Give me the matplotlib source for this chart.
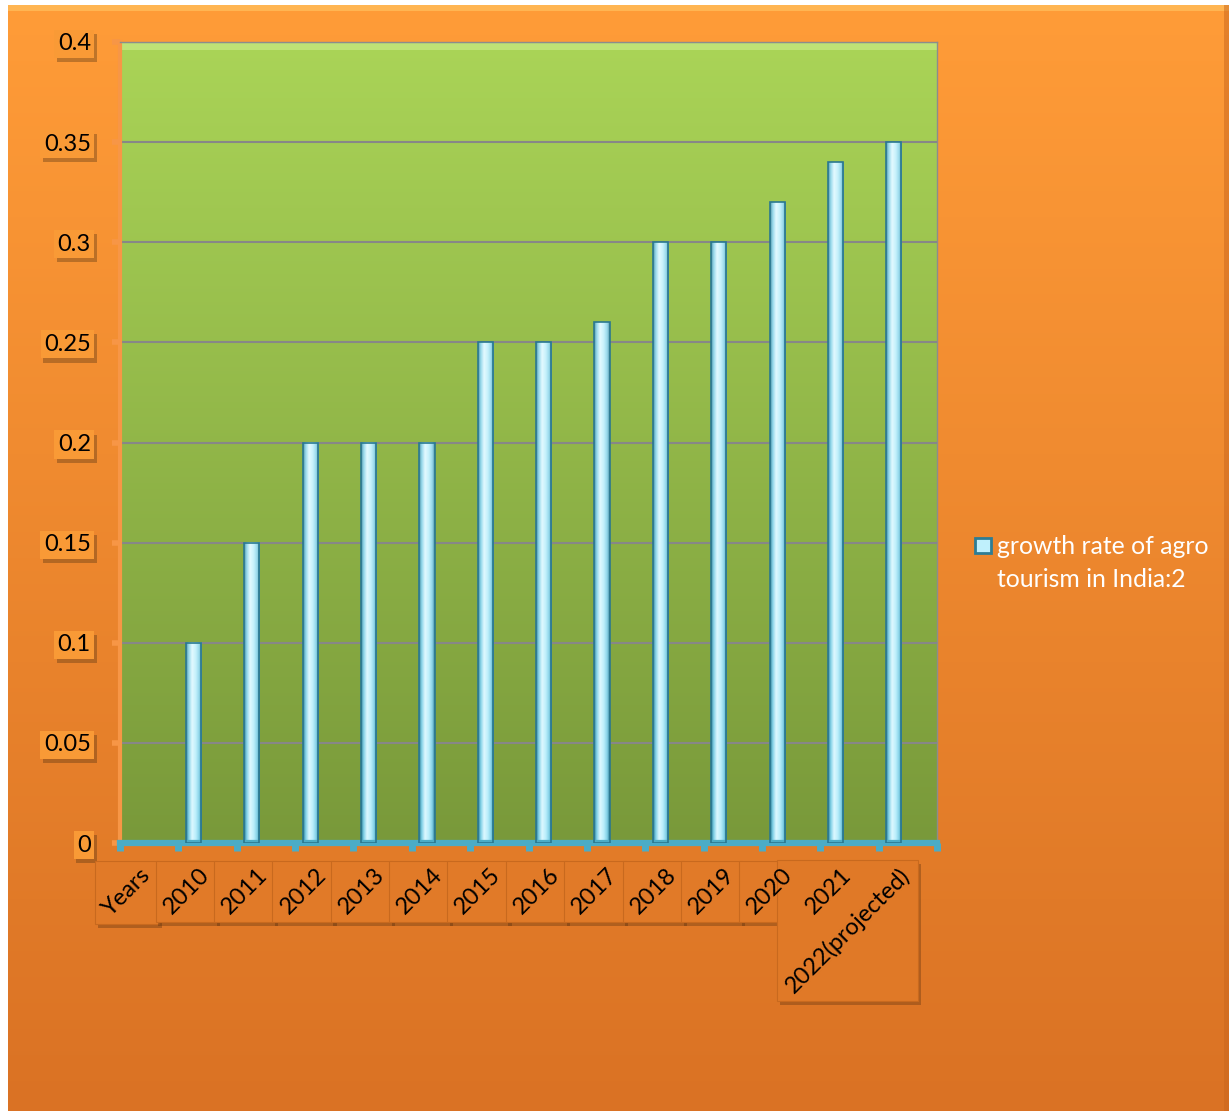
import matplotlib
matplotlib.use('Agg')
import matplotlib.pyplot as plt
import matplotlib.patheffects as pe
import matplotlib.transforms as mtransforms
from matplotlib.patches import Rectangle
from matplotlib.colors import to_rgb
import numpy as np

# --- data ---
categories = ['Years', '2010', '2011', '2012', '2013', '2014', '2015', '2016',
              '2017', '2018', '2019', '2020', '2021', '2022(projected)']
growth = [np.nan, 0.10, 0.15, 0.20, 0.20, 0.20, 0.25, 0.25,
          0.26, 0.30, 0.30, 0.32, 0.34, 0.35]
series_name = 'growth rate of agro\ntourism in India:2'
y_ticks = [0, 0.05, 0.10, 0.15, 0.20, 0.25, 0.30, 0.35, 0.40]
y_labels = ['0', '0.05', '0.1', '0.15', '0.2', '0.25', '0.3', '0.35', '0.4']

W, H = 1231, 1113
FONT = 'Lato'
FS = 17
plt.rcParams['font.family'] = [FONT, 'DejaVu Sans']

def fx(px):
    return px / W

def fy(py):
    return 1 - py / H

def vgrad(c_top, c_bot, n=256):
    t = np.linspace(0, 1, n)[:, None]
    g = np.array(to_rgb(c_top)) * (1 - t) + np.array(to_rgb(c_bot)) * t
    return g[:, None, :]

ORANGE_TOP, ORANGE_BOT = '#FF9C38', '#DA7224'

def orange_at(py):
    t = min(max((py - 5) / 1106, 0), 1)
    return tuple(np.array(to_rgb(ORANGE_TOP)) * (1 - t) + np.array(to_rgb(ORANGE_BOT)) * t)

fig = plt.figure(figsize=(W / 100, H / 100), dpi=100)
fig.patch.set_facecolor('white')

# orange chart area
bg = fig.add_axes([fx(8), fy(1111), fx(1229) - fx(8), fy(5) - fy(1111)])
bg.set_axis_off()
bg.imshow(vgrad(ORANGE_TOP, ORANGE_BOT), aspect='auto', extent=[0, 1, 0, 1])
bg.add_patch(Rectangle((0, 0.995), 1, 0.005, color='#FFB552', lw=0))
bg.add_patch(Rectangle((0.996, 0), 0.004, 1, color='#C9661E', alpha=0.5, lw=0))
bg.set_xlim(0, 1)
bg.set_ylim(0, 1)

# plot area
ax = fig.add_axes([fx(120), fy(843), fx(937) - fx(120), fy(42) - fy(843)])
ax.set_facecolor('none')
ax.imshow(vgrad('#AAD457', '#79993A'), aspect='auto', extent=[0, 1, 0, 1],
          transform=ax.transAxes, zorder=0)
ax.add_patch(Rectangle((0, 0.99), 1, 0.01, transform=ax.transAxes,
                       color='#BEE276', lw=0, zorder=0.2))

# bars with a horizontal gradient
x = np.arange(len(categories))
vals = np.array(growth, dtype=float)
mask = np.isfinite(vals)
bar_w, bar_off = 0.26, -0.24

keys_u = [0.0, 0.16, 0.38, 0.62, 0.84, 1.0]
keys_c = [to_rgb(c) for c in ['#2C7A91', '#7CCFE6', '#DDF8FF', '#B9EEFB', '#7FCFE6', '#2C7A91']]
u = np.linspace(0, 1, 40)
prof = np.stack([np.interp(u, keys_u, [c[k] for c in keys_c]) for k in range(3)], axis=1)
tv = np.linspace(0, 1, 100)[:, None, None]
bar_img = prof[None, :, :] * (0.8 + 0.2 * tv) + 1.0 * (0.2 - 0.2 * tv)
bar_img = np.clip(bar_img, 0, 1)

bars = ax.bar(x[mask] + bar_off, vals[mask], width=bar_w, color='none',
              edgecolor='#2A7890', linewidth=1.2, zorder=3)
for b in bars:
    x0, w, h = b.get_x(), b.get_width(), b.get_height()
    ax.imshow(bar_img, aspect='auto', extent=[x0, x0 + w, 0, h],
              interpolation='bilinear', zorder=2.5)

ax.set_xlim(-0.5, len(categories) - 0.5)
ax.set_ylim(0, 0.4)
ax.set_axisbelow(True)
ax.yaxis.grid(True, color='#878787', lw=1.5)

# spines
for side in ['top', 'right']:
    ax.spines[side].set_color('#8C8C8C')
    ax.spines[side].set_linewidth(1)
ax.spines['left'].set_color('#F79646')
ax.spines['left'].set_linewidth(3)
ax.spines['bottom'].set_color('#4BACC6')
ax.spines['bottom'].set_linewidth(4.5)
ax.spines['bottom'].set_capstyle('projecting')

# ticks
ax.set_xticks(np.arange(-0.5, len(categories), 1))
ax.tick_params(axis='x', direction='out', length=6, width=5, color='#4BACC6',
               labelbottom=False)
ax.set_yticks(y_ticks, y_labels)
ax.tick_params(axis='y', direction='out', length=6, width=4, color='#F79646',
               labelsize=FS, pad=15, labelcolor='black')
for lab in ax.get_yticklabels():
    lab.set_bbox(dict(facecolor='#F99A36', edgecolor='none', pad=2.5))
    lab.get_bbox_patch().set_path_effects(
        [pe.SimplePatchShadow(offset=(2, -3), alpha=0.35), pe.Normal()])

# rotated category labels
trans = mtransforms.blended_transform_factory(ax.transData, fig.transFigure)
xlabels = []
for i, cat in enumerate(categories):
    t = ax.text(i - 0.03, fy(872), cat, transform=trans, rotation=45,
                rotation_mode='anchor', ha='right', va='center', fontsize=FS,
                color='black', zorder=5)
    xlabels.append(t)

fig.canvas.draw()
renderer = fig.canvas.get_renderer()
pad = 4
for t in xlabels:
    bb = t.get_window_extent(renderer)
    face = orange_at(H - (bb.y0 + bb.y1) / 2)
    rect = Rectangle((bb.x0 - pad, bb.y0 - pad), bb.width + 2 * pad, bb.height + 2 * pad,
                     transform=mtransforms.IdentityTransform(), facecolor=face,
                     edgecolor='#C8691E', lw=0.8, zorder=1)
    rect.set_path_effects([pe.SimplePatchShadow(offset=(2, -3), alpha=0.3), pe.Normal()])
    fig.add_artist(rect)
    # keep the text above the box
    t.remove()
    fig.add_artist(t)
    t.set_zorder(2)

# legend
mk = Rectangle((975, H - 553), 16, 15, transform=mtransforms.IdentityTransform(),
               facecolor='#BFF0FC', edgecolor='#2E7C93', lw=2, zorder=3)
fig.add_artist(mk)
fig.text(fx(997), fy(535), series_name, color='white', fontsize=FS + 0.8,
         ha='left', va='top', linespacing=1.5)

fig.savefig('out.png', dpi=100)
